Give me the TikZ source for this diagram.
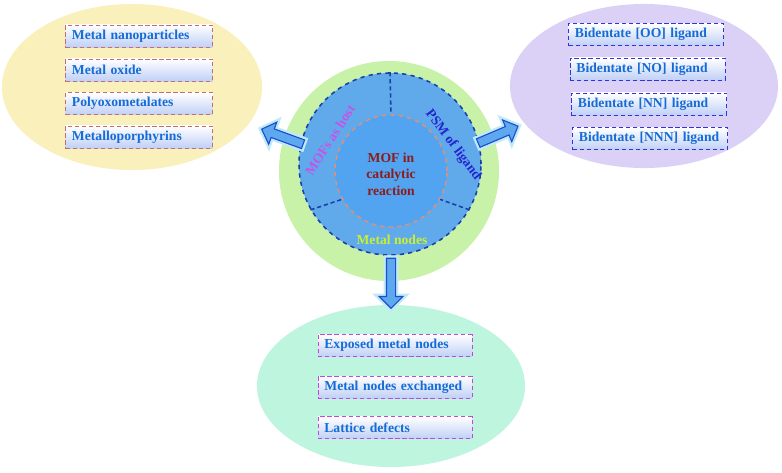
\documentclass[tikz,border=0pt]{standalone}
\usepackage{fontspec}
\setmainfont{Liberation Serif}
\usetikzlibrary{shapes.geometric,shapes.arrows}

\definecolor{hostbg}{RGB}{250,240,187}
\definecolor{ligbg}{RGB}{219,209,246}
\definecolor{nodebg}{RGB}{190,245,223}
\definecolor{halo}{RGB}{200,242,168}
\definecolor{ringblue}{RGB}{96,170,236}
\definecolor{coreblue}{RGB}{82,164,240}
\definecolor{rimdash}{RGB}{28,62,172}
\definecolor{coredash}{RGB}{232,142,112}
\definecolor{itemtext}{RGB}{22,108,214}
\definecolor{itemshade}{RGB}{192,208,246}
\definecolor{arrowfill}{RGB}{94,168,240}
\definecolor{arrowline}{RGB}{30,78,200}

\begin{document}
\begin{tikzpicture}[
    x=0.025cm, y=-0.025cm,
    font=\fontsize{9.7}{11.8}\selectfont\bfseries,
    blob/.style={ellipse, inner sep=0pt},
    item/.style={rectangle, densely dashed, line width=0.6pt, top color=white, bottom color=itemshade,
        minimum height=0.55cm, inner xsep=0.16cm, align=left, text=itemtext},
    hostitem/.style={item, draw={rgb,255:red,196;green,110;blue,110}, minimum width=3.675cm, text width=3.35cm},
    ligitem/.style={item, draw={rgb,255:red,50;green,50;blue,225}, minimum width=3.875cm, text width=3.55cm},
    nodeitem/.style={item, draw={rgb,255:red,196;green,70;blue,224}, minimum width=3.85cm, text width=3.53cm},
    bigarrow/.style={single arrow, draw=arrowline, fill=arrowfill, line width=0.8pt,
        inner xsep=0pt, inner ysep=0.1cm, single arrow head extend=0.18cm, single arrow head indent=0pt,
        preaction={draw=cyan!25, line width=4pt}},
    sector/.style={rimdash, densely dashed, line width=1.1pt}
]
    \useasboundingbox (0,0) rectangle (782,473);
    \fill[white] (0,0) rectangle (782,473);

    % three groups
    \node[blob, fill=hostbg, minimum width=6.5cm, minimum height=4.15cm] (host) at (132,87) {};
    \node[blob, fill=ligbg, minimum width=6.7cm, minimum height=4.1cm] (ligand) at (644,86) {};
    \node[blob, fill=nodebg, minimum width=6.7cm, minimum height=4.05cm] (nodes) at (391,386) {};

    \node[hostitem] (h1) at (139,36) {Metal nanoparticles};
    \node[hostitem] (h2) at (139,70) {Metal oxide};
    \node[hostitem] (h3) at (139,103.5) {Polyoxometalates};
    \node[hostitem] (h4) at (139,137) {Metalloporphyrins};

    \node[ligitem] (l1) at (646,34.5) {Bidentate [OO] ligand};
    \node[ligitem] (l2) at (647.5,69) {Bidentate [NO] ligand};
    \node[ligitem] (l3) at (649,104) {Bidentate [NN] ligand};
    \node[ligitem] (l4) at (650,138.5) {Bidentate [NNN] ligand};

    \node[nodeitem] (n1) at (395,345.5) {Exposed metal nodes};
    \node[nodeitem] (n2) at (395,387) {Metal nodes exchanged};
    \node[nodeitem] (n3) at (395,427.5) {Lattice defects};

    % central wheel
    \node[circle, fill=halo, minimum size=5.5cm, inner sep=0pt] (glow) at (389,171) {};
    \node[circle, fill=ringblue, draw=rimdash, dashed, line width=1.1pt, minimum size=4.55cm, inner sep=0pt] (ring) at (390,164) {};
    \node[circle, fill=coreblue, draw=coredash, dashed, line width=1pt, minimum size=2.8cm, inner sep=0pt] (core) at (391,171) {};
    \draw[sector] (ring.90) -- (core.90);
    \draw[sector] (ring.210) -- (core.210);
    \draw[sector] (ring.-30) -- (core.-30);

    \node[align=center, text={rgb,255:red,140;green,28;blue,28}] (title) at (391,174) {MOF in\\catalytic\\reaction};
    \node[rotate=57, text={rgb,255:red,196;green,84;blue,232}] (hostlbl) at (330,140) {MOFs as host};
    \node[rotate=-53, text={rgb,255:red,36;green,36;blue,208}] (liglbl) at (453,145) {PSM of ligand};
    \node[text={rgb,255:red,200;green,240;blue,50}] (nodelbl) at (392,240) {Metal nodes};

    % pointers to the groups
    \node[bigarrow, minimum height=1.1cm, rotate=160] (tohost) at (284.5,137.5) {};
    \node[bigarrow, minimum height=1.08cm, rotate=23] (toligand) at (496,135.5) {};
    \node[bigarrow, minimum height=1.25cm, rotate=-90] (tonodes) at (391,281) {};
\end{tikzpicture}
\end{document}
